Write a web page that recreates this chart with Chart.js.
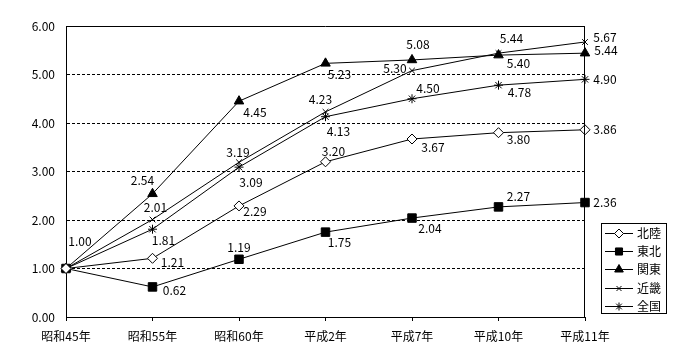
<!DOCTYPE html>
<html><head><meta charset="utf-8">
<script src="https://cdn.jsdelivr.net/npm/chart.js@4/dist/chart.umd.min.js"></script>
<style>html,body{margin:0;padding:0;background:#fff}canvas{display:block}</style>
</head><body><canvas id="c" width="700" height="360"></canvas>
<script>
// ---- data ----
const categories = ['昭和45年','昭和55年','昭和60年','平成2年','平成7年','平成10年','平成11年'];
const seriesNames = ['北陸','東北','関東','近畿','全国'];
const hokuriku = [1.00, 1.21, 2.29, 3.20, 3.67, 3.80, 3.86];
const tohoku   = [1.00, 0.62, 1.19, 1.75, 2.04, 2.27, 2.36];
const kanto    = [1.00, 2.54, 4.45, 5.23, 5.30, 5.40, 5.44];
const kinki    = [1.00, 2.01, 3.19, 4.23, 5.08, 5.44, 5.67];
const zenkoku  = [1.00, 1.81, 3.09, 4.13, 4.50, 4.78, 4.90];
const yMin = 0, yMax = 6, yStep = 1;

// ---- label placement (style, offsets from point in px) ----
const labelOffsets = [
  [[14,-27],[20,4],[16,6],[8,-10],[21,8],[20,7],[20,0]],
  [null,[22,4],[0,-12],[14,10],[18,10],[20,-10],[20,0]],
  [null,[-10,-13],[16,11],[14,11],[-17,8],[20,8],[21,-3]],
  [null,[3,-12],[-1,-10],[-5,-12],[6,-26],[13,-15],[20,-5]],
  [null,[11,11],[12,15],[13,15],[16,-10],[21,7],[20,0]]
];

const FONT = "'Noto Sans CJK JP', 'Noto Sans', sans-serif";
Chart.defaults.font.family = FONT;
Chart.defaults.font.size = 12;
Chart.defaults.color = '#000';

const styles = [
  {pointStyle:'rectRot', radius:5, bg:'#fff', lr:4.5},
  {pointStyle:'rect', radius:6, bg:'#000', lr:5},
  {pointStyle:'triangle', radius:5.5, bg:'#000', lr:5},
  {pointStyle:'crossRot', radius:4, bg:'#000', lr:3.5},
  {pointStyle:'star', radius:4.5, bg:'#000', lr:4}
];
const allSeries = [hokuriku, tohoku, kanto, kinki, zenkoku];

const datasets = allSeries.map((d, i) => ({
  label: seriesNames[i],
  data: d,
  borderColor: '#000',
  borderWidth: 1,
  backgroundColor: styles[i].bg,
  pointStyle: styles[i].pointStyle,
  pointRadius: styles[i].radius,
  pointHoverRadius: styles[i].radius,
  pointBackgroundColor: styles[i].bg,
  pointBorderColor: '#000',
  pointBorderWidth: 1,
  tension: 0,
  fill: false,
  clip: false
}));

const white = {
  id: 'white',
  beforeDraw(chart) {
    const c = chart.ctx; c.save(); c.fillStyle = '#fff';
    c.fillRect(0, 0, chart.width, chart.height); c.restore();
  }
};

const frame = {
  id: 'frame',
  afterDraw(chart) {
    const a = chart.chartArea, c = chart.ctx;
    const t = Math.round(a.top) + 0.5, r = Math.round(a.right) - 0.5, b = Math.round(a.bottom);
    c.save(); c.strokeStyle = '#000'; c.lineWidth = 1; c.setLineDash([]);
    c.beginPath();
    c.moveTo(Math.round(a.left), t); c.lineTo(r + 0.5, t);
    c.moveTo(r, t); c.lineTo(r, b);
    c.stroke(); c.restore();
  }
};

const valueLabels = {
  id: 'valueLabels',
  afterDatasetsDraw(chart) {
    const c = chart.ctx;
    c.save();
    c.font = '12px ' + FONT;
    c.fillStyle = '#000';
    c.textAlign = 'center';
    c.textBaseline = 'middle';
    chart.data.datasets.forEach((ds, i) => {
      const meta = chart.getDatasetMeta(i);
      meta.data.forEach((pt, j) => {
        const off = labelOffsets[i][j];
        if (!off) return;
        c.fillText(ds.data[j].toFixed(2), pt.x + off[0], pt.y + off[1]);
      });
    });
    c.restore();
  }
};

const boxLegend = {
  id: 'boxLegend',
  afterDraw(chart) {
    const c = chart.ctx;
    const x0 = 601.5, y0 = 223.5, w = 65, h = 90;
    c.save();
    c.strokeStyle = '#000'; c.lineWidth = 1; c.setLineDash([]);
    c.strokeRect(x0, y0, w, h);
    c.font = '12px ' + FONT;
    c.fillStyle = '#000'; c.textAlign = 'left'; c.textBaseline = 'middle';
    chart.data.datasets.forEach((ds, i) => {
      const y = Math.round(233 + i * 18.2) + 0.5;
      c.beginPath(); c.moveTo(605, y); c.lineTo(633, y); c.stroke();
      c.fillStyle = ds.pointBackgroundColor; c.strokeStyle = '#000';
      Chart.helpers.drawPoint(c, {pointStyle: ds.pointStyle, radius: styles[i].lr, borderWidth: 1, rotation: 0}, 619, y);
      c.fillStyle = '#000';
      c.fillText(ds.label, 637, y);
    });
    c.restore();
  }
};

new Chart(document.getElementById('c'), {
  type: 'line',
  data: { labels: categories, datasets },
  options: {
    responsive: false,
    animation: false,
    events: [],
    layout: { padding: { top: 26, right: 115, bottom: 0, left: 0 } },
    plugins: { legend: { display: false }, tooltip: { enabled: false } },
    scales: {
      x: {
        offset: false,
        grid: { drawOnChartArea: false, drawTicks: true, tickLength: 4, color: '#000' },
        border: { display: true, color: '#000', width: 1 },
        ticks: { padding: 8, maxRotation: 0, autoSkip: false, font: { size: 12 } },
        afterFit(s) { s.height = 43; }
      },
      y: {
        min: yMin, max: yMax,
        grid: {
          drawTicks: false,
          color: ctx => (ctx.tick && (ctx.tick.value === yMin || ctx.tick.value === yMax)) ? 'rgba(0,0,0,0)' : '#000',
          lineWidth: 1
        },
        border: { display: true, color: '#000', width: 1, dash: [3, 2] },
        ticks: { stepSize: yStep, padding: 11, callback: v => Number(v).toFixed(2), font: { size: 12 } },
        afterFit(s) { s.width = 66; }
      }
    }
  },
  plugins: [white, frame, valueLabels, boxLegend]
});
</script>
</body></html>
